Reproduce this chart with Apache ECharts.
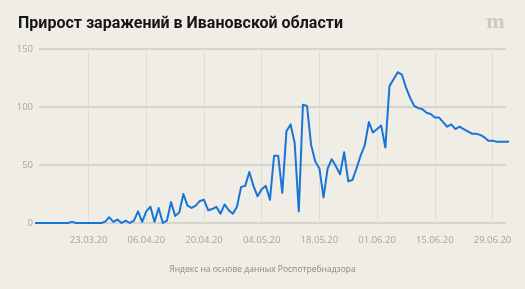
<!DOCTYPE html>
<html>
<head>
<meta charset="utf-8">
<script src="https://cdn.jsdelivr.net/npm/echarts@6/dist/echarts.min.js"></script>
<style>
html,body{margin:0;padding:0;background:#f0ede6;}
#chart{width:525px;height:289px;}
</style>
</head>
<body>
<div id="chart"></div>
<script>
const dates = [
 '10.03.20','11.03.20','12.03.20','13.03.20','14.03.20','15.03.20','16.03.20','17.03.20','18.03.20','19.03.20',
 '20.03.20','21.03.20','22.03.20','23.03.20','24.03.20','25.03.20','26.03.20','27.03.20','28.03.20','29.03.20',
 '30.03.20','31.03.20','01.04.20','02.04.20','03.04.20','04.04.20','05.04.20','06.04.20','07.04.20','08.04.20',
 '09.04.20','10.04.20','11.04.20','12.04.20','13.04.20','14.04.20','15.04.20','16.04.20','17.04.20','18.04.20',
 '19.04.20','20.04.20','21.04.20','22.04.20','23.04.20','24.04.20','25.04.20','26.04.20','27.04.20','28.04.20',
 '29.04.20','30.04.20','01.05.20','02.05.20','03.05.20','04.05.20','05.05.20','06.05.20','07.05.20','08.05.20',
 '09.05.20','10.05.20','11.05.20','12.05.20','13.05.20','14.05.20','15.05.20','16.05.20','17.05.20','18.05.20',
 '19.05.20','20.05.20','21.05.20','22.05.20','23.05.20','24.05.20','25.05.20','26.05.20','27.05.20','28.05.20',
 '29.05.20','30.05.20','31.05.20','01.06.20','02.06.20','03.06.20','04.06.20','05.06.20','06.06.20','07.06.20',
 '08.06.20','09.06.20','10.06.20','11.06.20','12.06.20','13.06.20','14.06.20','15.06.20','16.06.20','17.06.20',
 '18.06.20','19.06.20','20.06.20','21.06.20','22.06.20','23.06.20','24.06.20','25.06.20','26.06.20','27.06.20',
 '28.06.20','29.06.20','30.06.20','01.07.20','02.07.20','03.07.20'
];
const newCases = [
 0,0,0,0,0,0,0,0,0,1,
 0,0,0,0,0,0,0,1,5,1,
 3,0,2,0,2,10,1,10,14,1,
 13,0,2,18,6,9,25,15,13,15,
 19,20,11,12,14,8,16,11,8,14,
 31,32,44,32,23,29,32,20,58,58,
 26,79,85,69,10,102,101,67,53,47,
 22,47,55,49,42,61,36,37,47,58,
 67,87,78,81,84,65,118,124,130,128,
 117,108,101,99,98,95,94,91,91,87,
 83,85,81,83,81,79,77,77,76,74,
 71,71,70,70,70,70
];
const xTickLabels = ['23.03.20','06.04.20','20.04.20','04.05.20','18.05.20','01.06.20','15.06.20','29.06.20'];
const yTicks = [0, 50, 100, 150];

const titleText = 'Прирост заражений в Ивановской области';
const sourceText = 'Яндекс на основе данных Роспотребнадзора';

const chart = echarts.init(document.getElementById('chart'), null, {renderer: 'canvas'});
const showTick = (idx, val) => xTickLabels.indexOf(dates[idx]) !== -1;

chart.setOption({
  backgroundColor: '#f0ede6',
  animation: false,
  title: [
    {text: titleText, left: 13, top: 11,
     textStyle: {fontFamily: 'Roboto', fontWeight: 'bold', fontSize: 16, color: '#151515'}},
    {text: sourceText, left: 'center', top: 260,
     textStyle: {fontFamily: 'Open Sans', fontWeight: 'normal', fontSize: 8.5, color: '#8c8983'}},
    {text: 'm', right: 15, top: 9,
     textStyle: {fontFamily: 'DejaVu Serif', fontWeight: 'bold', fontSize: 18, color: '#cdc9c1'}}
  ],
  grid: [
    {left: 35, right: 16, top: 49, bottom: 66},
    {left: 39, right: 19, top: 49, bottom: 66}
  ],
  xAxis: [
    {
      type: 'category', gridIndex: 0, data: dates, boundaryGap: false,
      axisLine: {show: false}, axisTick: {show: false},
      axisLabel: {interval: showTick, margin: 12, fontFamily: 'Open Sans', fontSize: 9.5, color: '#a8a49d'},
      splitLine: {show: true, interval: showTick, lineStyle: {color: '#e2ded6', width: 1}}
    },
    {type: 'value', gridIndex: 1, show: false, min: 0, max: 1}
  ],
  yAxis: [
    {type: 'value', gridIndex: 0, min: yTicks[0], max: yTicks[yTicks.length-1], interval: 50, show: false, splitLine: {show: false}},
    {
      type: 'value', gridIndex: 1, min: yTicks[0], max: yTicks[yTicks.length-1], interval: 50,
      axisLine: {show: false}, axisTick: {show: false},
      axisLabel: {margin: 6, fontFamily: 'Open Sans', fontSize: 9.5, color: '#aaa69f'},
      splitLine: {show: true, lineStyle: {color: '#cfcbc4', width: 1.5}}
    }
  ],
  series: [{
    type: 'line', xAxisIndex: 0, yAxisIndex: 0, data: newCases,
    showSymbol: false, symbol: 'none', clip: false, z: 5,
    lineStyle: {color: '#1775d8', width: 2, join: 'round'}
  }]
});
</script>
</body>
</html>
